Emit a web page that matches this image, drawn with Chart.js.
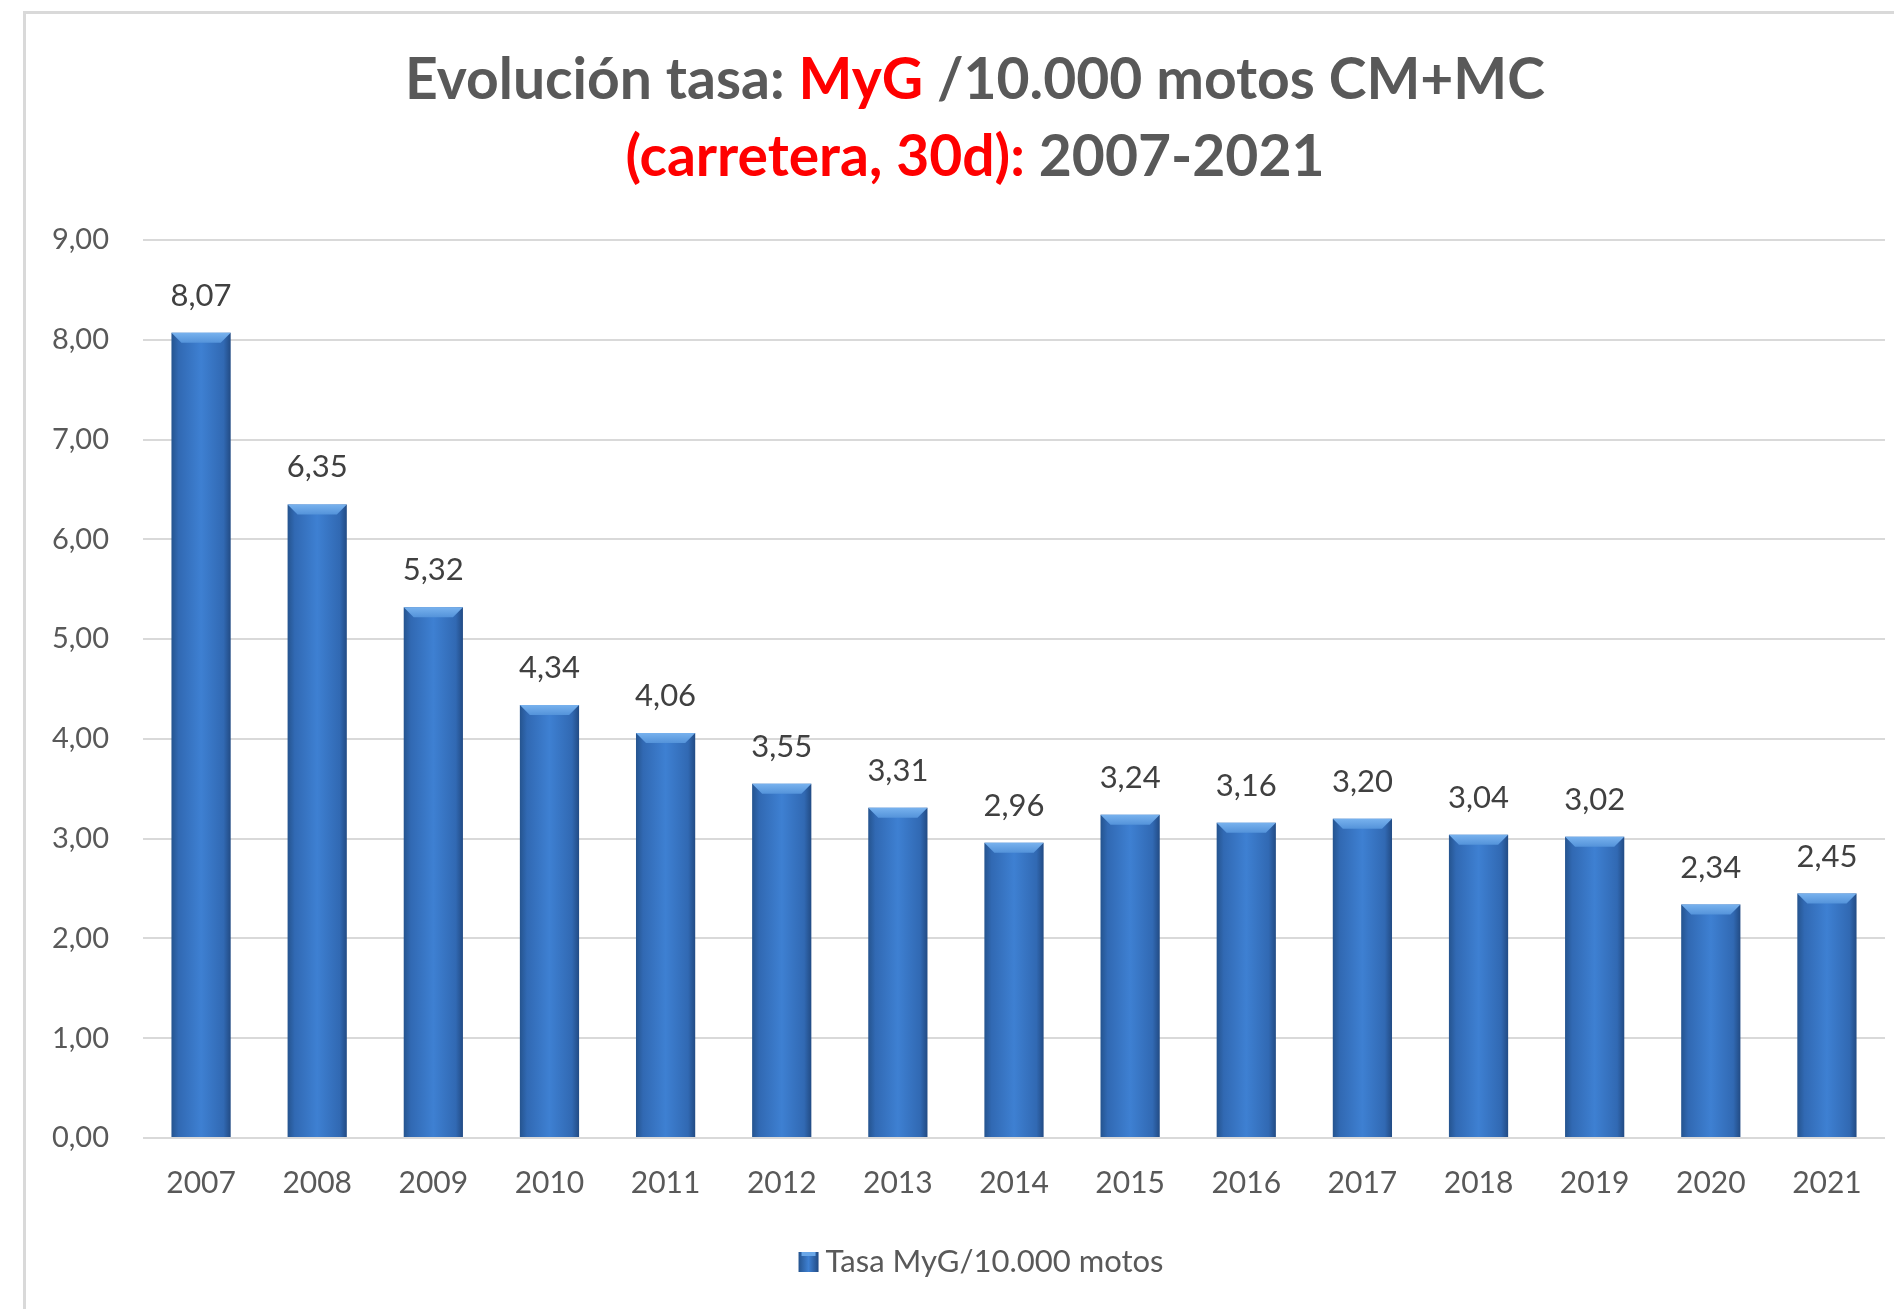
<!DOCTYPE html>
<html lang="es">
<head>
<meta charset="utf-8">
<title>Evolución tasa MyG</title>
<script src="https://cdn.jsdelivr.net/npm/chart.js@4.4.1/dist/chart.umd.min.js"></script>
<style>
    html, body { margin: 0; padding: 0; background: #fff; overflow: hidden; }
    #frame {
        position: absolute;
        left: 23px;
        top: 11px;
        width: 1900px;
        height: 1320px;
        border: 3px solid #d9d9d9;
    }
    #tasaChart { position: absolute; left: 0; top: 0; }
</style>
</head>
<body>
<div id="frame"></div>
<canvas id="tasaChart" width="1894" height="1309"></canvas>
<script>

const years = ["2007", "2008", "2009", "2010", "2011", "2012", "2013", "2014",
    "2015", "2016", "2017", "2018", "2019", "2020", "2021"];

const tasaValues = [8.07, 6.35, 5.32, 4.34, 4.06, 3.55, 3.31, 2.96,
    3.24, 3.16, 3.20, 3.04, 3.02, 2.34, 2.45];

const seriesLabel = "Tasa MyG/10.000 motos";

// title pieces: [text, colour]
const titleLine1 = [["Evolución tasa: ", "#595959"], ["MyG", "#ff0000"], [" /10.000 motos CM+MC", "#595959"]];
const titleLine2 = [["(carretera, 30d):", "#ff0000"], [" 2007-2021", "#595959"]];

const fmt = v => v.toFixed(2).replace(".", ",");

// bar fill: darker edges, lighter middle
function barFill(context) {
    const chart = context.chart;
    const area = chart.chartArea;
    if (!area) return "#3570bd";
    const xScale = chart.scales.x;
    const cx = xScale.getPixelForValue(context.dataIndex);
    const half = (xScale.width / years.length) * 0.51 / 2;
    const g = chart.ctx.createLinearGradient(cx - half, 0, cx + half, 0);
    g.addColorStop(0, "#25548f");
    g.addColorStop(0.12, "#3169b3");
    g.addColorStop(0.5, "#3e80d2");
    g.addColorStop(0.88, "#3169b3");
    g.addColorStop(1, "#224b84");
    return g;
}

const titlePlugin = {
    id: "twoColourTitle",
    afterDraw(chart) {
        const ctx = chart.ctx;
        ctx.save();
        ctx.font = "bold 57px Lato";
        ctx.textBaseline = "middle";
        [[titleLine1, 81], [titleLine2, 158]].forEach(([parts, y]) => {
            const total = parts.reduce((s, p) => s + ctx.measureText(p[0]).width, 0);
            let x = 975 - total / 2;
            parts.forEach(([txt, col]) => {
                ctx.fillStyle = col;
                ctx.textAlign = "left";
                ctx.fillText(txt, x, y);
                x += ctx.measureText(txt).width;
            });
        });

        // legend, centred on the frame rather than the canvas
        ctx.font = "31px Lato";
        const textW = ctx.measureText(seriesLabel).width;
        const boxX = 981 - (20 + 7 + textW) / 2;
        const legendY = 1262;
        const box = ctx.createLinearGradient(boxX, 0, boxX + 20, 0);
        box.addColorStop(0, "#25548f");
        box.addColorStop(0.5, "#3e80d2");
        box.addColorStop(1, "#224b84");
        ctx.fillStyle = box;
        ctx.fillRect(boxX, legendY - 10, 20, 20);
        ctx.fillStyle = "#6aa7e8";
        ctx.fillRect(boxX + 3, legendY - 10, 14, 4);
        ctx.fillStyle = "#595959";
        ctx.textAlign = "left";
        ctx.fillText(seriesLabel, boxX + 27, legendY);
        ctx.restore();
    }
};

// bevel on bar tops and value labels
const barDecor = {
    id: "barDecor",
    afterDatasetsDraw(chart) {
        const ctx = chart.ctx;
        const meta = chart.getDatasetMeta(0);
        ctx.save();
        meta.data.forEach((bar, i) => {
            const left = bar.x - bar.width / 2;
            const right = bar.x + bar.width / 2;
            const top = bar.y;
            const bevel = ctx.createLinearGradient(0, top, 0, top + 10);
            bevel.addColorStop(0, "#78b2ee");
            bevel.addColorStop(1, "#5493da");
            ctx.fillStyle = bevel;
            ctx.beginPath();
            ctx.moveTo(left, top);
            ctx.lineTo(right, top);
            ctx.lineTo(right - 10, top + 10);
            ctx.lineTo(left + 10, top + 10);
            ctx.closePath();
            ctx.fill();

            ctx.fillStyle = "#404040";
            ctx.font = "31px Lato";
            ctx.textAlign = "center";
            ctx.textBaseline = "middle";
            ctx.fillText(fmt(tasaValues[i]), bar.x, top - 37);
        });
        ctx.restore();
    }
};

new Chart(document.getElementById("tasaChart"), {

    type: "bar",

    data: {
        labels: years,
        datasets: [{
            label: seriesLabel,
            data: tasaValues,
            backgroundColor: barFill,
            borderWidth: 0,
            categoryPercentage: 0.51,
            barPercentage: 1
        }]
    },

    options: {
        responsive: false,
        animation: false,
        layout: {
            padding: { top: 240, right: 9, bottom: 70, left: 0 }
        },
        plugins: {
            legend: { display: false },
            tooltip: { enabled: false }
        },
        scales: {
            x: {
                afterFit(scale) { scale.height = 101; },
                grid: { display: false },
                border: { display: false },
                ticks: {
                    color: "#595959",
                    font: { family: "Lato", size: 30 },
                    padding: 19
                }
            },
            y: {
                min: 0,
                max: 9,
                afterFit(scale) { scale.width = 143; },
                grid: { color: "#d9d9d9", lineWidth: 2, drawTicks: false },
                border: { display: false },
                ticks: {
                    stepSize: 1,
                    color: "#595959",
                    font: { family: "Lato", size: 29 },
                    padding: 34,
                    callback: v => fmt(v)
                }
            }
        }
    },

    plugins: [titlePlugin, barDecor]

});

</script>
</body>
</html>
